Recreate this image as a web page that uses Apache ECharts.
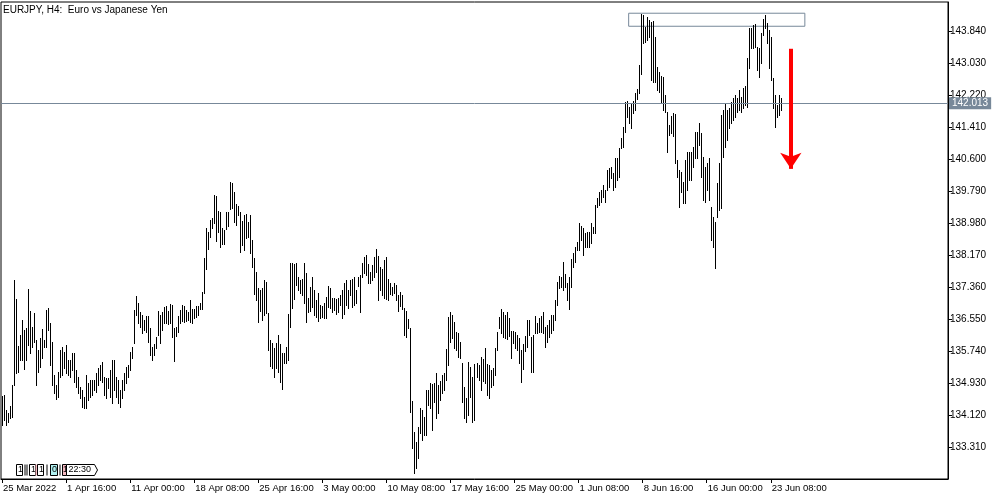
<!DOCTYPE html>
<html><head><meta charset="utf-8">
<script src="https://cdn.jsdelivr.net/npm/echarts@6/dist/echarts.min.js"></script>
<style>html,body{margin:0;padding:0;background:#fff}#c{width:1000px;height:500px}</style>
</head><body><div id="c"></div>
<script>
const chartTitle = 'EURJPY, H4:  Euro vs Japanese Yen';
const tickLabels = ['25 Mar 2022','1 Apr 16:00','11 Apr 00:00','18 Apr 08:00','25 Apr 16:00','3 May 00:00','10 May 08:00','17 May 16:00','25 May 00:00','1 Jun 08:00','8 Jun 16:00','16 Jun 00:00','23 Jun 08:00'];
const highs = [
134.60,134.63,134.25,134.17,134.35,134.88,137.54,137.06,135.87,136.15,
136.53,136.27,136.32,137.31,136.75,136.35,136.70,136.02,135.77,136.07,
136.30,136.02,136.78,136.83,136.45,135.97,135.13,134.88,135.21,135.77,
135.84,135.72,135.89,135.51,135.51,135.69,135.69,135.26,135.08,134.83,
134.75,134.58,135.13,134.93,135.01,135.01,135.01,135.18,135.31,135.39,
135.46,135.08,135.06,135.06,135.26,135.51,135.51,135.08,135.01,134.75,
135.01,135.18,135.34,135.39,135.72,135.84,136.78,137.13,136.96,136.73,
136.65,136.53,136.63,136.63,136.32,135.84,135.92,136.09,136.75,136.65,
136.73,136.85,136.88,136.75,136.93,136.90,136.32,136.35,136.63,136.78,
136.90,136.88,136.78,136.73,137.03,136.80,136.80,136.88,136.88,136.96,
137.23,138.09,138.85,138.75,139.06,139.11,139.69,139.66,139.28,139.26,
138.85,138.80,139.26,139.26,140.02,139.99,139.77,139.46,139.41,139.26,
139.03,139.18,139.21,139.01,139.18,138.55,138.09,137.74,137.33,137.28,
137.33,137.54,137.49,136.70,136.02,135.94,135.82,135.94,136.15,135.92,
135.69,135.69,135.84,136.68,137.97,137.97,137.94,137.97,137.61,137.54,
137.56,137.97,137.71,137.08,137.36,137.61,137.28,137.03,137.21,136.90,
136.88,136.96,137.11,137.39,137.33,137.08,137.08,137.06,137.08,137.16,
137.28,137.46,137.54,137.28,137.54,137.56,137.61,137.28,137.61,137.66,
137.97,138.12,138.17,137.94,137.74,137.92,138.12,138.32,138.14,137.87,
137.82,138.04,138.12,137.56,137.46,137.36,137.46,137.41,137.16,137.23,
137.16,136.83,136.75,136.55,136.32,134.47,133.69,133.44,133.82,134.30,
134.25,134.07,134.75,134.75,134.93,134.91,134.93,135.18,134.88,134.98,
135.13,135.18,135.79,136.60,136.73,136.65,136.47,136.22,136.20,135.97,
135.44,134.83,134.55,135.46,135.34,135.08,135.41,135.44,135.39,135.59,
135.54,135.82,135.41,135.39,135.26,135.31,135.82,136.22,136.60,136.80,
136.73,136.65,136.73,136.58,136.25,136.25,136.22,136.15,136.07,135.77,
135.92,136.12,136.53,136.53,136.09,136.15,136.63,136.45,136.58,136.63,
136.73,136.35,136.40,136.53,136.65,136.65,137.03,137.49,137.64,137.61,
137.99,137.69,137.46,137.61,138.07,138.22,138.37,138.50,138.98,138.90,
138.85,138.73,138.75,138.75,138.98,138.88,139.44,139.61,139.77,139.82,
139.94,139.82,140.32,140.37,140.40,140.25,140.63,140.63,140.88,141.13,
141.41,142.04,142.07,141.92,141.99,142.07,142.27,142.37,142.98,144.27,
144.25,143.94,144.19,144.12,144.07,144.09,143.69,142.93,142.80,142.70,
142.68,142.22,141.79,141.46,141.69,141.76,141.74,140.58,140.32,140.27,
140.02,140.58,140.78,140.78,140.78,140.90,141.28,141.28,141.51,141.26,
140.65,140.40,140.50,140.63,139.39,139.13,139.01,139.99,140.50,141.71,
141.84,142.02,141.84,141.89,142.04,142.14,142.22,142.14,142.35,142.17,
142.40,142.45,143.16,143.92,143.92,143.99,144.02,143.44,143.41,143.79,
144.14,144.25,144.04,143.87,143.69,142.65,142.22,141.97,142.22,142.14
];
const lows = [
133.87,133.99,133.87,133.94,134.05,134.07,134.88,135.18,135.21,135.51,
135.51,135.28,135.51,135.89,135.69,135.84,135.97,134.88,135.21,135.34,
135.56,135.84,135.84,136.27,135.39,134.88,134.68,134.53,134.58,135.08,
135.13,135.31,135.18,135.13,135.08,135.26,134.96,134.83,134.68,134.55,
134.32,134.30,134.30,134.50,134.58,134.63,134.75,134.70,134.88,135.01,
134.96,134.63,134.55,134.80,134.58,134.42,134.75,134.58,134.42,134.32,
134.55,134.75,134.93,135.08,135.26,135.56,135.94,136.65,136.45,136.35,
136.20,136.27,136.22,135.97,135.64,135.51,135.64,135.82,136.15,135.94,
136.27,136.45,136.45,136.42,136.45,136.09,135.49,136.12,136.22,136.45,
136.50,136.47,136.50,136.53,136.47,136.45,136.58,136.60,136.65,136.80,
136.80,137.21,137.82,138.32,138.63,138.85,138.98,138.52,138.75,138.37,
138.45,138.45,138.83,138.90,139.33,139.36,139.01,138.93,139.18,138.25,
138.42,138.30,138.60,138.63,138.22,137.87,137.18,137.03,136.47,136.75,
136.53,136.65,136.70,135.77,135.36,135.31,135.08,135.31,135.21,134.96,
134.78,135.44,135.44,135.51,136.35,136.83,137.06,137.41,137.28,137.21,
137.16,136.96,136.47,136.73,136.75,136.85,136.65,136.60,136.50,136.58,
136.60,136.58,136.58,136.85,136.83,136.73,136.78,136.68,136.73,136.90,
136.58,136.68,136.90,136.83,137.16,136.85,136.90,136.96,137.39,136.73,
137.61,137.71,137.66,137.46,137.46,137.54,137.61,137.74,137.03,137.28,
137.16,137.08,137.06,137.03,137.18,137.16,137.21,137.03,136.75,136.88,
136.80,136.15,136.09,136.32,134.20,133.29,132.65,132.78,133.03,133.67,
133.49,133.62,133.62,134.37,134.30,133.74,134.45,134.04,134.17,134.50,
134.68,134.75,135.01,135.39,135.97,136.07,135.82,135.77,135.59,135.56,
134.45,134.04,133.94,134.12,134.58,133.94,133.99,135.08,135.01,134.75,
134.98,134.93,134.63,134.55,134.83,134.88,135.13,135.77,136.32,136.20,
136.09,136.07,136.04,136.12,135.56,135.94,135.82,135.77,135.44,134.96,
135.28,135.74,135.84,136.15,135.21,135.21,136.20,136.20,136.22,136.22,
136.20,135.84,135.97,136.09,136.20,136.27,136.53,136.90,137.33,137.36,
137.28,137.36,137.03,136.80,137.36,137.87,137.99,138.30,138.30,138.55,
138.17,138.37,138.37,138.37,138.47,138.73,138.73,139.39,139.44,139.51,
139.64,139.51,139.82,139.89,140.12,139.82,139.89,140.07,140.15,140.88,
140.90,141.28,141.66,141.51,141.38,141.76,141.84,142.12,142.27,142.75,
143.54,143.56,143.61,143.69,142.60,142.55,142.55,142.35,142.30,142.02,
141.84,141.79,140.78,141.21,141.26,141.18,140.50,140.15,139.39,139.77,
139.49,139.49,139.82,140.07,140.07,140.40,140.63,140.63,140.96,140.15,
139.56,139.51,139.82,139.56,138.55,138.37,137.84,139.13,139.31,139.36,
140.65,140.90,141.08,141.38,141.51,141.59,141.66,141.79,141.84,141.79,
141.89,141.97,141.92,142.90,143.41,143.41,143.44,142.85,142.68,143.03,
143.74,143.92,143.54,142.90,142.60,141.89,141.41,141.66,141.71,141.84
];
const lastPrice = 142.013;
// rectangle (resistance zone) and arrow annotation, in bar index / price units
const zoneStart = 313, zoneEnd = 401, zoneTop = 144.29, zoneBottom = 143.96;
const arrowBar = 394, arrowFrom = 143.39, arrowTo = 140.35;

const SLOTS = 473, STEP = 32;
const FONT = 'Liberation Sans';
const cats = Array.from({length: SLOTS}, (_, i) => String(i));
const bars = highs.map((h, i) => [i, h, lows[i]]);
const showTick = (i) => i % STEP === 0 && (i / STEP) < tickLabels.length;

function renderItem(params, api) {
  const top = api.coord([api.value(0), api.value(1)]);
  const bot = api.coord([api.value(0), api.value(2)]);
  const x = Math.round(top[0]) + 0.5;
  return {type: 'line', shape: {x1: x, y1: Math.round(top[1]), x2: x, y2: Math.round(bot[1]) + 1},
    style: {stroke: '#000', lineWidth: 1}};
}

const chart = echarts.init(document.getElementById('c'));
chart.setOption({
  animation: false,
  title: {text: chartTitle, left: 3, top: 5, padding: 0,
    textStyle: {fontFamily: FONT, fontSize: 10, fontWeight: 'normal', color: '#000'}},
  grid: {left: 1, right: 52, top: 2, bottom: 21, show: true, borderColor: '#000', borderWidth: 1},
  xAxis: {type: 'category', data: cats, boundaryGap: true,
    axisLine: {show: true, lineStyle: {color: '#000'}},
    axisTick: {show: true, alignWithLabel: true, length: 4, interval: showTick, lineStyle: {color: '#000'}},
    axisLabel: {interval: showTick, formatter: (v, i) => tickLabels[i / STEP] || '', align: 'left',
      margin: 4, padding: [0, 0, 0, 1], fontFamily: FONT, fontSize: 9.5, color: '#000'},
    splitLine: {show: false}},
  yAxis: {type: 'value', position: 'right', min: 132.5, max: 144.574, interval: 0.81,
    axisLine: {show: true, lineStyle: {color: '#000'}},
    axisTick: {show: true, length: 4, lineStyle: {color: '#000'}},
    axisLabel: {formatter: v => v.toFixed(3), showMinLabel: false, showMaxLabel: false, margin: 2,
      fontFamily: FONT, fontSize: 10, color: '#000'},
    splitLine: {show: false}},
  series: [{
    type: 'custom', renderItem: renderItem, data: bars, encode: {x: 0, y: [1, 2]}, clip: true,
    markLine: {silent: true, animation: false, symbol: ['none', 'none'], data: [
      {yAxis: lastPrice, lineStyle: {color: '#778899', width: 1, type: 'solid'},
        label: {show: true, position: 'end', formatter: lastPrice.toFixed(3), backgroundColor: '#778899',
          color: '#fff', fontFamily: FONT, fontSize: 10, padding: [1, 3, 1, 3], distance: 1}},
      [{coord: [String(arrowBar), arrowFrom], symbol: 'none', lineStyle: {color: '#ff0000', width: 4, type: 'solid'}, label: {show: false}},
       {coord: [String(arrowBar), arrowTo], symbol: 'arrow', symbolSize: [16, 16], lineStyle: {color: '#ff0000', width: 4, type: 'solid'}, label: {show: false}}]
    ]},
    markArea: {silent: true, itemStyle: {color: 'rgba(0,0,0,0)', borderColor: '#778899', borderWidth: 1},
      data: [[{coord: [String(zoneStart), zoneTop]}, {coord: [String(zoneEnd), zoneBottom]}]]}
  }],
  graphic: [
    {type: 'group', left: 16, top: 462, children: [
      {type: 'rect', shape: {x: 0, y: 0, width: 6, height: 11}, style: {fill: '#fff', stroke: '#000', lineWidth: 1}},
      {type: 'text', x: 1.5, y: 1, style: {text: '1', font: '9px "Liberation Sans"', fill: '#000'}},
      {type: 'line', shape: {x1: 8.5, y1: 0, x2: 8.5, y2: 11}, style: {stroke: '#000'}},
      {type: 'line', shape: {x1: 10.5, y1: 0, x2: 10.5, y2: 11}, style: {stroke: '#000'}},
      {type: 'rect', shape: {x: 13, y: 0, width: 6, height: 11}, style: {fill: '#fff', stroke: '#000', lineWidth: 1}},
      {type: 'text', x: 14.5, y: 1, style: {text: '1', font: '9px "Liberation Sans"', fill: '#000'}},
      {type: 'rect', shape: {x: 19, y: 0, width: 2, height: 11}, style: {fill: '#f4b8c0'}},
      {type: 'rect', shape: {x: 21, y: 0, width: 6, height: 11}, style: {fill: '#fff', stroke: '#000', lineWidth: 1}},
      {type: 'text', x: 22.5, y: 1, style: {text: '1', font: '9px "Liberation Sans"', fill: '#000'}},
      {type: 'line', shape: {x1: 30.5, y1: 0, x2: 30.5, y2: 11}, style: {stroke: '#000'}},
      {type: 'rect', shape: {x: 34, y: 0, width: 7, height: 11}, style: {fill: '#b0f0f0', stroke: '#000', lineWidth: 1}},
      {type: 'text', x: 35.5, y: 1, style: {text: '0', font: '9px "Liberation Sans"', fill: '#000'}},
      {type: 'line', shape: {x1: 43.5, y1: 0, x2: 43.5, y2: 11}, style: {stroke: '#000'}},
      {type: 'rect', shape: {x: 46, y: 0, width: 4, height: 11}, style: {fill: '#f4b8c0', stroke: '#000', lineWidth: 1}},
      {type: 'text', x: 46.5, y: 1, style: {text: '1', font: '9px "Liberation Sans"', fill: '#000'}},
      {type: 'polygon', shape: {points: [[50, 0], [78, 0], [81, 5.5], [78, 11], [50, 11]]}, style: {fill: '#fff', stroke: '#000', lineWidth: 1}},
      {type: 'text', x: 52, y: 1, style: {text: '22:30', font: '9px "Liberation Sans"', fill: '#000'}}
    ]}
  ]
});
</script>
</body></html>
